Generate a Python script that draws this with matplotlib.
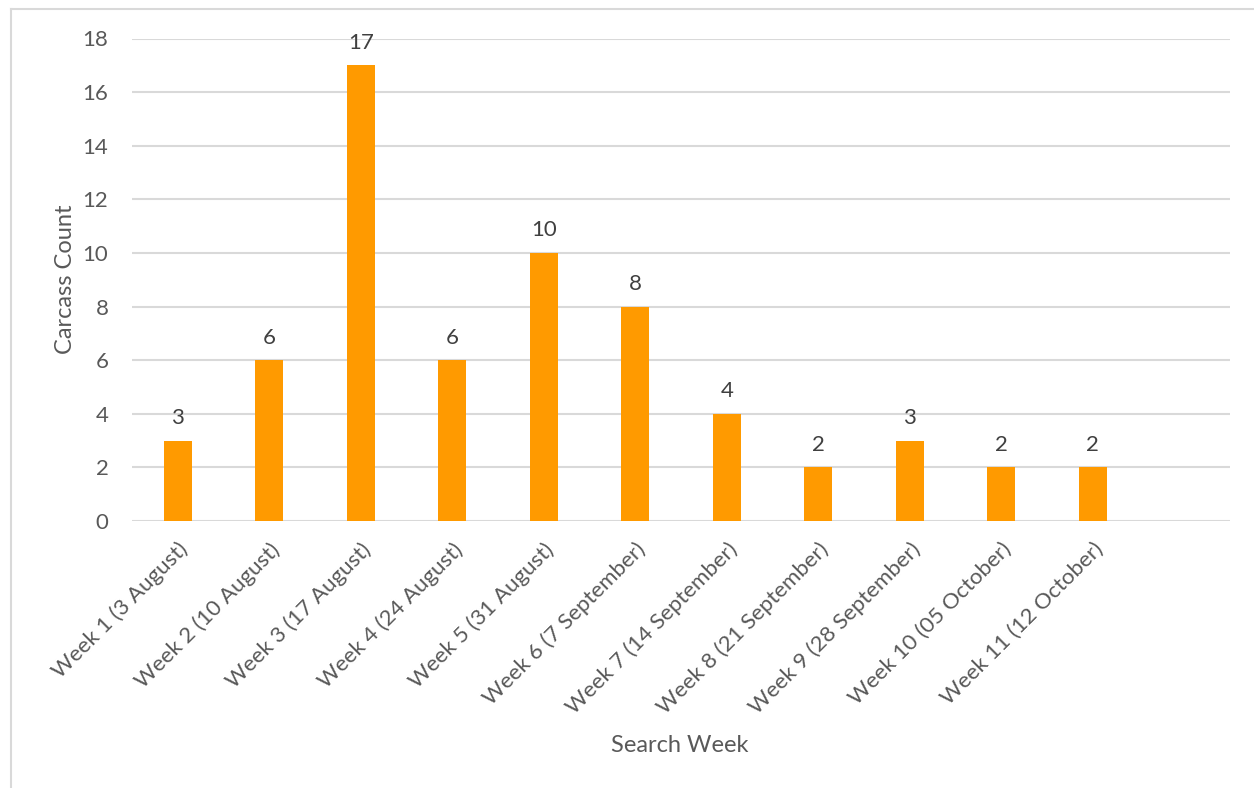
import matplotlib.pyplot as plt
from matplotlib.lines import Line2D

weeks = ['Week 1 (3 August)', 'Week 2 (10 August)', 'Week 3 (17 August)',
         'Week 4 (24 August)', 'Week 5 (31 August)', 'Week 6 (7 September)',
         'Week 7 (14 September)', 'Week 8 (21 September)', 'Week 9 (28 September)',
         'Week 10 (05 October)', 'Week 11 (12 October)', '']
counts = [3, 6, 17, 6, 10, 8, 4, 2, 3, 2, 2, None]

plt.rcParams['font.family'] = ['Lato', 'DejaVu Sans']

fig = plt.figure(figsize=(12.54, 7.88), dpi=100)
ax = fig.add_axes([132/1254, 1 - 521/788, 1098/1254, (521 - 38.5)/788])

xs = list(range(len(weeks)))
vals = [c for c in counts if c is not None]
bars = ax.bar(xs[:len(vals)], vals, width=0.31, color='#FF9A00', zorder=3)
for b, v in zip(bars, vals):
    ax.annotate(str(v), (b.get_x() + b.get_width()/2, v), xytext=(0, 9),
                textcoords='offset points', ha='center', va='bottom',
                fontsize=16, color='#404040')

ax.set_xlim(-0.5, len(weeks) - 0.5)
ax.set_ylim(0, 18)
ax.set_yticks(range(0, 19, 2))
ax.set_xticks(xs)
ax.set_xticklabels(weeks, rotation=45, ha='right', rotation_mode='anchor')
ax.tick_params(axis='both', length=0, labelsize=16, labelcolor='#595959')
ax.tick_params(axis='y', pad=17)
ax.tick_params(axis='x', pad=13)
ax.grid(axis='y', color='#D9D9D9', linewidth=1.5, zorder=0)
for s in ax.spines.values():
    s.set_visible(False)

ax.set_ylabel('Carcass Count', fontsize=17, color='#595959', labelpad=5)
fig.text(680/1254, 1 - 746/788, 'Search Week', fontsize=17, color='#595959',
         ha='center', va='center')

# outer chart frame
fig.add_artist(Line2D([11/1254, 11/1254], [0, 1 - 9/788], color='#D9D9D9', linewidth=1.5))
fig.add_artist(Line2D([11/1254, 1], [1 - 9/788, 1 - 9/788], color='#D9D9D9', linewidth=1.5))

fig.savefig('out.png', dpi=100)
